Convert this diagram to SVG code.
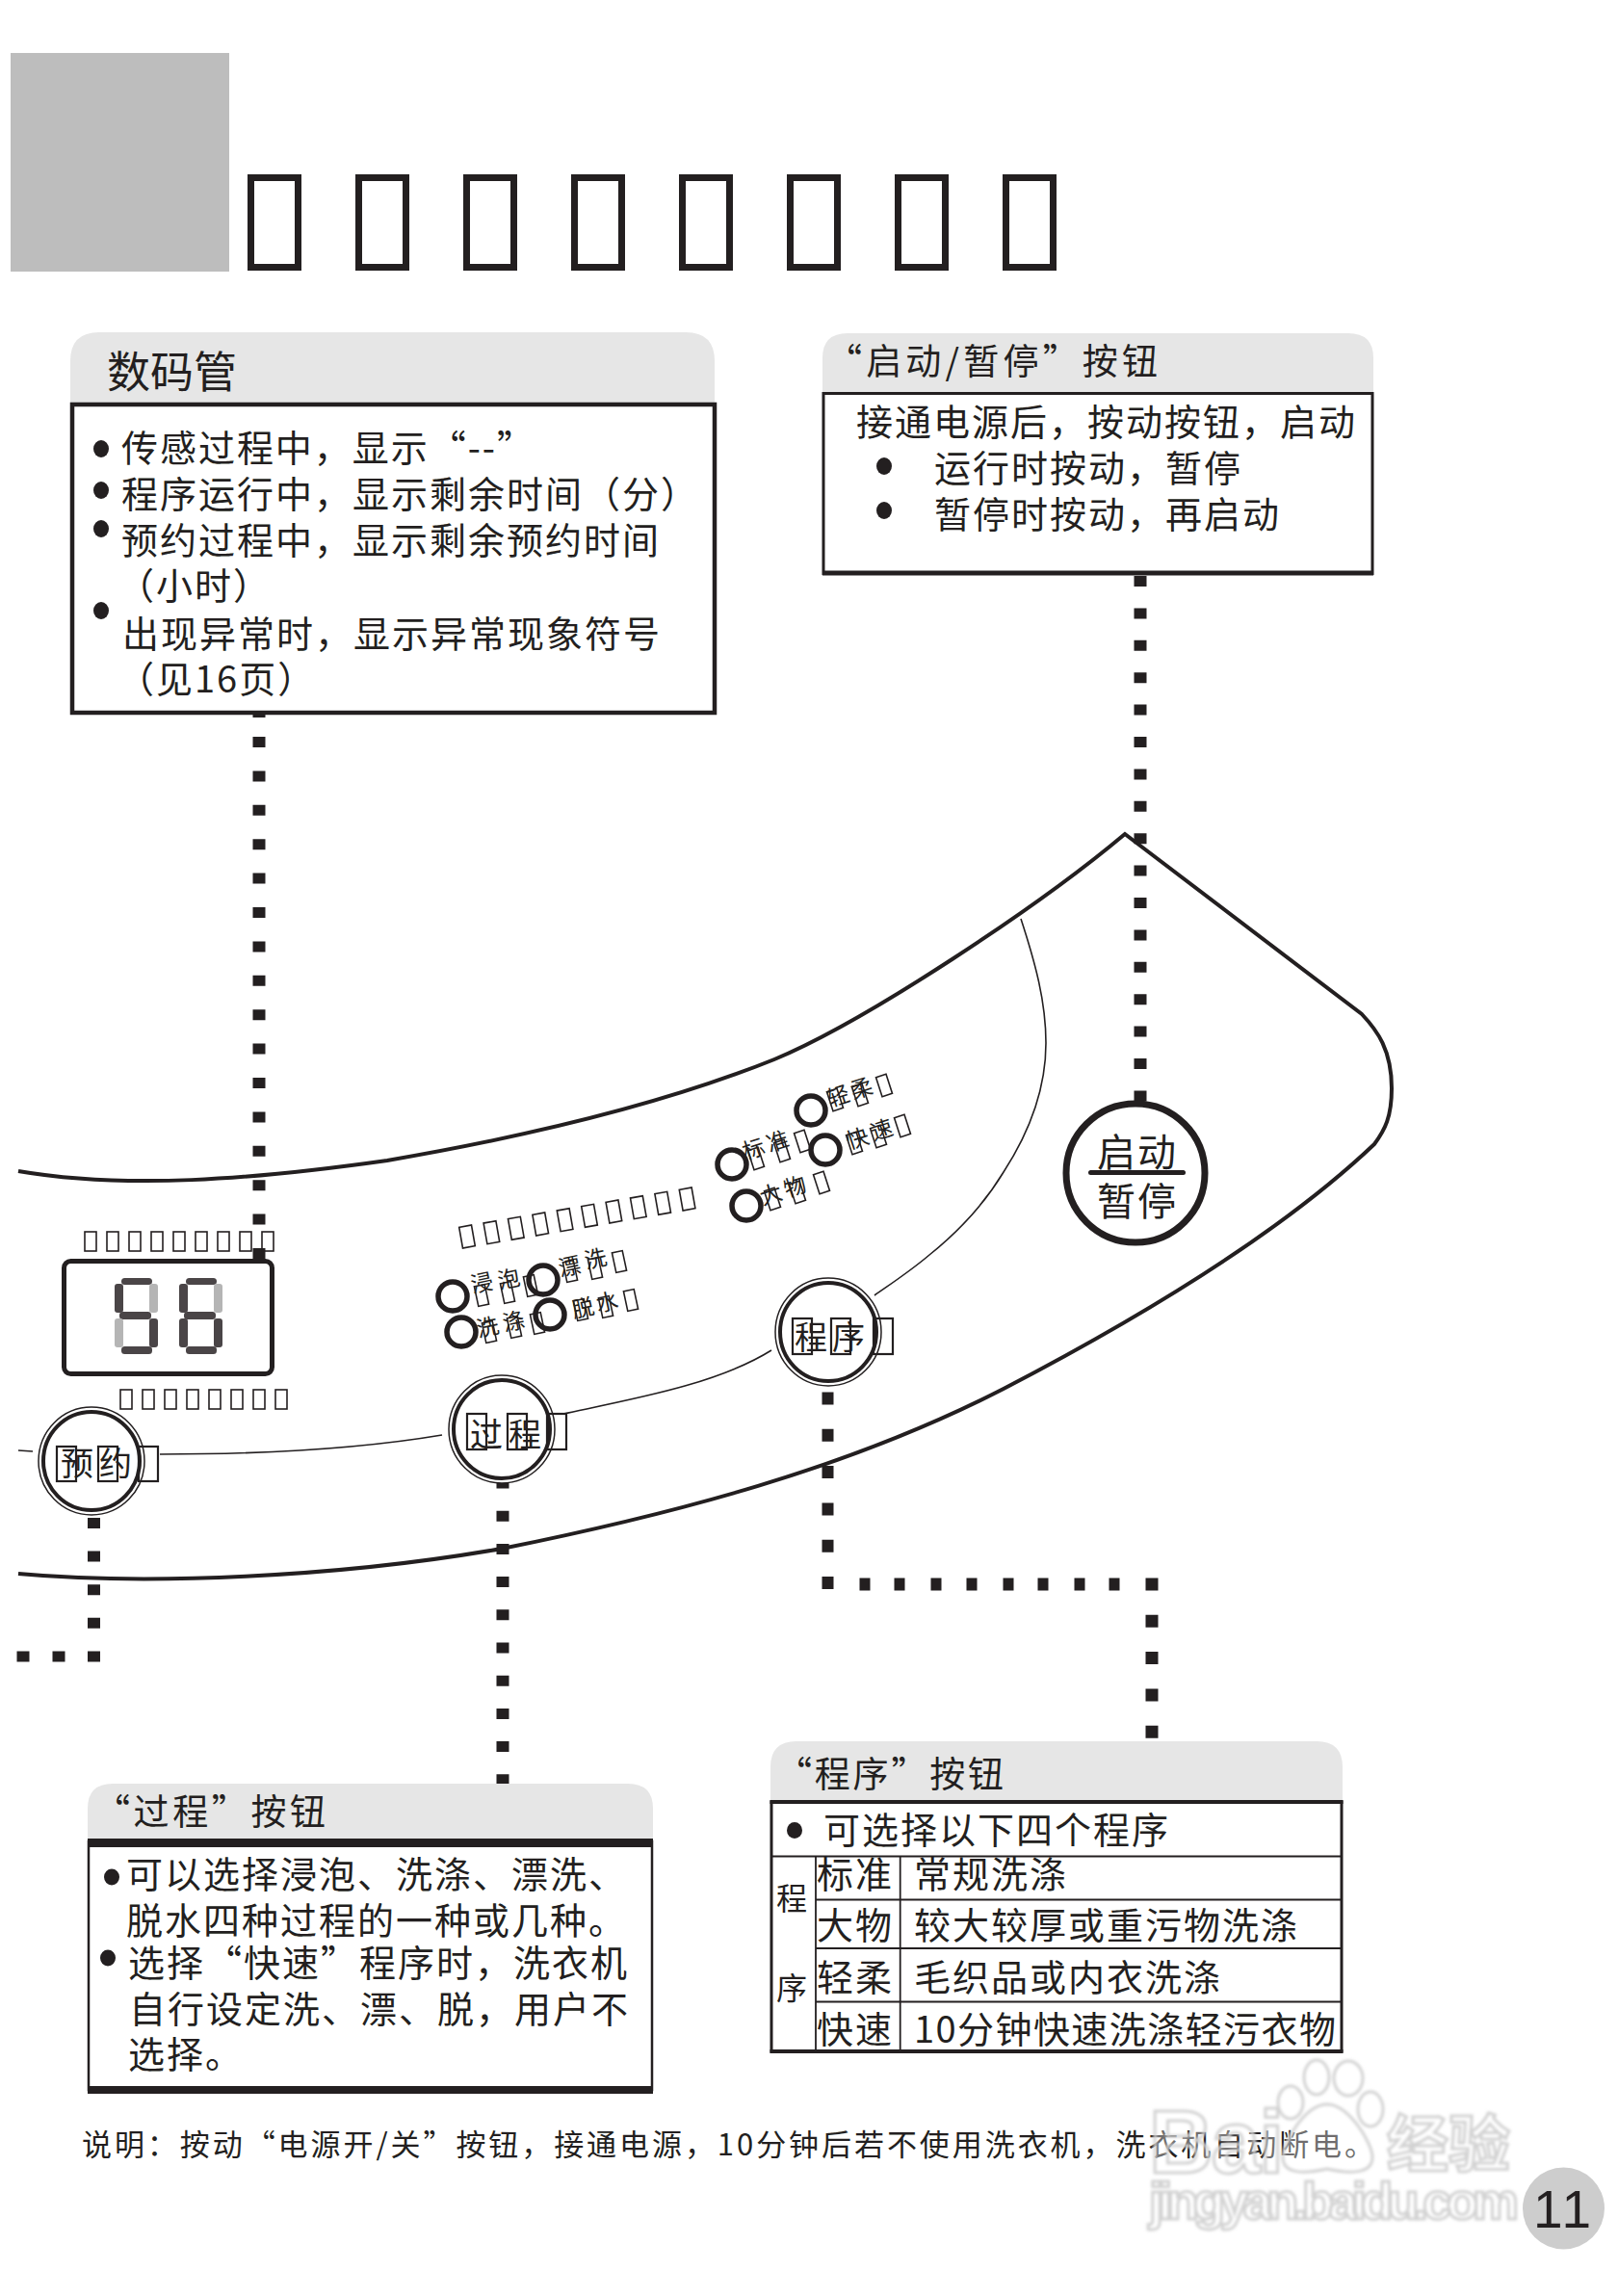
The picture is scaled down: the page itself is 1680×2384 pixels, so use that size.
<svg xmlns="http://www.w3.org/2000/svg" width="1680" height="2384" viewBox="0 0 1680 2384">
<defs>
<filter id="soft" x="-5%" y="-5%" width="110%" height="110%"><feGaussianBlur stdDeviation="1.5"/></filter>
</defs>
<style>
text{font-family:"Noto Sans CJK SC","Liberation Sans",sans-serif;fill:#231f20}
.t38{font-size:38px;letter-spacing:2px}
.h36{font-size:37px}
.foot{font-size:31px}
.btn{font-size:34px;letter-spacing:2px}
.led{font-size:23px;text-anchor:middle}
.line{fill:none;stroke:#231f20;stroke-width:4}
.thin{fill:none;stroke:#231f20;stroke-width:1.6}
.head{fill:#e6e6e6}
.box{fill:#fff;stroke:#231f20;stroke-width:3}
.rule{stroke:#231f20;stroke-width:1.8}
.bul{fill:#231f20}
.tofu{fill:none;stroke:#231f20;stroke-width:1.6}
.tbox{fill:none;stroke:#231f20;stroke-width:2.2}
.title{fill:none;stroke:#231f20;stroke-width:7}
.ring{fill:none;stroke:#231f20;stroke-width:5.5}
.dot{fill:none;stroke:#231f20;stroke-width:13}
.segd{fill:#4a4547}.segl{fill:#b5b5b5}
.wm{fill:#fff;fill-opacity:.35;stroke:#d2d2d2;stroke-width:3;font-family:"Liberation Sans",sans-serif;font-weight:700}
</style>

<rect x="11" y="55" width="227" height="227" fill="#bdbdbd"/>
<g id="title">
<rect class="title" x="260.500" y="184.500" width="49" height="93"/>
<rect class="title" x="372.500" y="184.500" width="49" height="93"/>
<rect class="title" x="484.500" y="184.500" width="49" height="93"/>
<rect class="title" x="596.500" y="184.500" width="49" height="93"/>
<rect class="title" x="708.500" y="184.500" width="49" height="93"/>
<rect class="title" x="820.500" y="184.500" width="49" height="93"/>
<rect class="title" x="932.500" y="184.500" width="49" height="93"/>
<rect class="title" x="1044.500" y="184.500" width="49" height="93"/>
</g>

<g id="panel">
<path class="line" d="M19 1216 C130 1235 260 1225 402 1205 C536 1182 680 1150 804 1100 C900 1060 1080 940 1168 866 L1414 1053 C1430 1070 1445 1090 1445 1130 C1445 1160 1438 1173 1427 1188 C1330 1280 1190 1365 1042 1442 C880 1525 700 1572 521 1608 C350 1638 150 1646 19 1634"/>
<path class="thin" d="M1060 954 C1075 1000 1086 1040 1086 1083 C1086 1135 1066 1180 1042 1217 C1025 1245 1000 1275 965 1303 C945 1320 925 1333 908 1345"/>
<path class="thin" d="M801 1402 C745 1437 660 1452 585 1468"/>
<path class="thin" d="M459 1490 C370 1505 270 1510 166 1510"/>
<path class="thin" d="M19 1506 L34 1507"/>
</g>

<g id="connectors">
<path class="dot" d="M269 742 V745 M269 765 V1308" stroke-dasharray="11 24.400"/>
<path class="dot" d="M1184 598 V1145" stroke-dasharray="11 22.400"/>
<path class="dot" d="M97.500 1576 V1727" stroke-dasharray="11 23.600"/>
<path class="dot" d="M61 1714.500 V1725.500 M24 1714.500 V1725.500"/>
<path class="dot" d="M522 1534.500 V1854" stroke-dasharray="11 23.200"/>
<path class="dot" d="M859.500 1445.500 V1651" stroke-dasharray="13 25.300" style="stroke-width:12"/>
<path class="dot" d="M898 1638.500 V1651.500 M934 1638.500 V1651.500 M972 1638.500 V1651.500 M1009 1638.500 V1651.500 M1047 1638.500 V1651.500 M1083 1638.500 V1651.500 M1121 1638.500 V1651.500 M1157 1638.500 V1651.500" style="stroke-width:11"/>
<path class="dot" d="M1196 1638.500 V1806" stroke-dasharray="13 25.300"/>
</g>

<g id="display-labels">
<rect class="tofu" x="88" y="1279" width="12" height="20"/><rect class="tofu" x="111" y="1279" width="12" height="20"/><rect class="tofu" x="134" y="1279" width="12" height="20"/><rect class="tofu" x="157" y="1279" width="12" height="20"/><rect class="tofu" x="180" y="1279" width="12" height="20"/><rect class="tofu" x="203" y="1279" width="12" height="20"/><rect class="tofu" x="226" y="1279" width="12" height="20"/><rect class="tofu" x="249" y="1279" width="12" height="20"/><rect class="tofu" x="272" y="1279" width="12" height="20"/>
<rect class="tofu" x="125" y="1443" width="12" height="20"/><rect class="tofu" x="148" y="1443" width="12" height="20"/><rect class="tofu" x="171" y="1443" width="12" height="20"/><rect class="tofu" x="194" y="1443" width="12" height="20"/><rect class="tofu" x="217" y="1443" width="12" height="20"/><rect class="tofu" x="240" y="1443" width="12" height="20"/><rect class="tofu" x="263" y="1443" width="12" height="20"/><rect class="tofu" x="286" y="1443" width="12" height="20"/>
</g>

<g id="display">
<rect x="66.500" y="1309.500" width="216" height="117" rx="7" fill="#fff" stroke="#231f20" stroke-width="5"/>
<g id="digit1">
<rect class="segd" x="126" y="1327" width="32" height="7" rx="3.500"/>
<rect class="segd" x="119" y="1333" width="9" height="30" rx="3"/>
<rect class="segl" x="155" y="1333" width="9" height="30" rx="3"/>
<rect class="segd" x="124" y="1362" width="33" height="8" rx="3.500"/>
<rect class="segl" x="119" y="1369" width="9" height="30" rx="3"/>
<rect class="segd" x="155" y="1369" width="9" height="30" rx="3"/>
<rect class="segd" x="126" y="1398" width="32" height="8" rx="3.500"/>
</g>
<g id="digit2">
<rect class="segd" x="193" y="1327" width="32" height="7" rx="3.500"/>
<rect class="segd" x="186" y="1333" width="9" height="30" rx="3"/>
<rect class="segl" x="222" y="1333" width="9" height="30" rx="3"/>
<rect class="segd" x="191" y="1362" width="33" height="8" rx="3.500"/>
<rect class="segd" x="186" y="1369" width="9" height="30" rx="3"/>
<rect class="segd" x="222" y="1369" width="9" height="30" rx="3"/>
<rect class="segd" x="193" y="1398" width="32" height="8" rx="3.500"/>
</g>
</g>

<g id="indicator-title">
<rect class="tofu" x="-6.500" y="-11" width="13" height="22" transform="translate(485 1284) rotate(-10)"/>
<rect class="tofu" x="-6.500" y="-11" width="13" height="22" transform="translate(510.400 1279.700) rotate(-10)"/>
<rect class="tofu" x="-6.500" y="-11" width="13" height="22" transform="translate(535.800 1275.300) rotate(-10)"/>
<rect class="tofu" x="-6.500" y="-11" width="13" height="22" transform="translate(561.200 1271) rotate(-10)"/>
<rect class="tofu" x="-6.500" y="-11" width="13" height="22" transform="translate(586.600 1266.700) rotate(-10)"/>
<rect class="tofu" x="-6.500" y="-11" width="13" height="22" transform="translate(612 1262.300) rotate(-10)"/>
<rect class="tofu" x="-6.500" y="-11" width="13" height="22" transform="translate(637.400 1258) rotate(-10)"/>
<rect class="tofu" x="-6.500" y="-11" width="13" height="22" transform="translate(662.800 1253.700) rotate(-10)"/>
<rect class="tofu" x="-6.500" y="-11" width="13" height="22" transform="translate(688.200 1249.300) rotate(-10)"/>
<rect class="tofu" x="-6.500" y="-11" width="13" height="22" transform="translate(713.600 1245) rotate(-10)"/>
</g>

<g id="led-soak">
<circle class="ring" cx="470" cy="1346" r="15"/>
<text class="led" transform="translate(502 1340) rotate(-12)">浸</text><text class="led" transform="translate(530 1336) rotate(-12)">泡</text>
<rect class="tofu" x="-5.500" y="-10.500" width="11" height="21" transform="translate(500 1345) rotate(-12)"/><rect class="tofu" x="-5.500" y="-10.500" width="11" height="21" transform="translate(527 1342) rotate(-12)"/><rect class="tofu" x="-5.500" y="-10.500" width="11" height="21" transform="translate(551 1335) rotate(-12)"/>
</g>
<g id="led-rinse">
<circle class="ring" cx="564" cy="1329" r="15"/>
<text class="led" transform="translate(593 1323) rotate(-12)">漂</text><text class="led" transform="translate(620 1315) rotate(-12)">洗</text>
<rect class="tofu" x="-5.500" y="-10.500" width="11" height="21" transform="translate(592 1320) rotate(-12)"/><rect class="tofu" x="-5.500" y="-10.500" width="11" height="21" transform="translate(618 1317) rotate(-12)"/><rect class="tofu" x="-5.500" y="-10.500" width="11" height="21" transform="translate(643 1310) rotate(-12)"/>
</g>
<g id="led-wash">
<circle class="ring" cx="479" cy="1383" r="15"/>
<text class="led" transform="translate(508 1386) rotate(-12)">洗</text><text class="led" transform="translate(535 1380) rotate(-12)">涤</text>
<rect class="tofu" x="-5.500" y="-10.500" width="11" height="21" transform="translate(508 1383) rotate(-12)"/><rect class="tofu" x="-5.500" y="-10.500" width="11" height="21" transform="translate(534 1378) rotate(-12)"/><rect class="tofu" x="-5.500" y="-10.500" width="11" height="21" transform="translate(558 1374) rotate(-12)"/>
</g>
<g id="led-spin">
<circle class="ring" cx="571" cy="1365" r="15"/>
<text class="led" transform="translate(607 1366) rotate(-12)">脱</text><text class="led" transform="translate(632 1360) rotate(-12)">水</text>
<rect class="tofu" x="-5.500" y="-10.500" width="11" height="21" transform="translate(603 1360) rotate(-12)"/><rect class="tofu" x="-5.500" y="-10.500" width="11" height="21" transform="translate(629 1357) rotate(-12)"/><rect class="tofu" x="-5.500" y="-10.500" width="11" height="21" transform="translate(655 1350) rotate(-12)"/>
</g>
<g id="led-gentle">
<circle class="ring" cx="842" cy="1153" r="15"/>
<text class="led" transform="translate(873 1146) rotate(-18)">轻</text><text class="led" transform="translate(897 1138) rotate(-18)">柔</text>
<rect class="tofu" x="-5.500" y="-10.500" width="11" height="21" transform="translate(867 1142) rotate(-18)"/><rect class="tofu" x="-5.500" y="-10.500" width="11" height="21" transform="translate(893 1137) rotate(-18)"/><rect class="tofu" x="-5.500" y="-10.500" width="11" height="21" transform="translate(918 1127) rotate(-18)"/>
</g>
<g id="led-standard">
<circle class="ring" cx="760" cy="1209" r="15"/>
<text class="led" transform="translate(785 1201) rotate(-18)">标</text><text class="led" transform="translate(810 1193) rotate(-18)">准</text>
<rect class="tofu" x="-5.500" y="-10.500" width="11" height="21" transform="translate(785 1203) rotate(-18)"/><rect class="tofu" x="-5.500" y="-10.500" width="11" height="21" transform="translate(812 1195) rotate(-18)"/><rect class="tofu" x="-5.500" y="-10.500" width="11" height="21" transform="translate(833 1185) rotate(-18)"/>
</g>
<g id="led-quick">
<circle class="ring" cx="857" cy="1194" r="15"/>
<text class="led" transform="translate(893 1190) rotate(-18)">快</text><text class="led" transform="translate(918 1181) rotate(-18)">速</text>
<rect class="tofu" x="-5.500" y="-10.500" width="11" height="21" transform="translate(887 1187) rotate(-18)"/><rect class="tofu" x="-5.500" y="-10.500" width="11" height="21" transform="translate(912 1180) rotate(-18)"/><rect class="tofu" x="-5.500" y="-10.500" width="11" height="21" transform="translate(937 1169) rotate(-18)"/>
</g>
<g id="led-bulky">
<circle class="ring" cx="775" cy="1252" r="15"/>
<text class="led" transform="translate(803 1248) rotate(-18)">大</text><text class="led" transform="translate(828 1240) rotate(-18)">物</text>
<rect class="tofu" x="-5.500" y="-10.500" width="11" height="21" transform="translate(802 1245) rotate(-18)"/><rect class="tofu" x="-5.500" y="-10.500" width="11" height="21" transform="translate(828 1238) rotate(-18)"/><rect class="tofu" x="-5.500" y="-10.500" width="11" height="21" transform="translate(853 1228) rotate(-18)"/>
</g>

<g id="btn-timer">
<ellipse cx="95" cy="1517" rx="55" ry="56" fill="#fff" stroke="#231f20" stroke-width="1.500"/>
<ellipse cx="95" cy="1517" rx="50" ry="51" fill="#fff" stroke="#231f20" stroke-width="4"/>
<text class="btn" x="63" y="1532" style="letter-spacing:6px">预约</text>
<rect class="tbox" x="59" y="1502" width="20" height="36"/><rect class="tbox" x="102" y="1502" width="20" height="36"/><rect class="tbox" x="144" y="1502" width="20" height="36"/>
</g>
<g id="btn-process">
<ellipse cx="521" cy="1484" rx="55" ry="56" fill="#fff" stroke="#231f20" stroke-width="1.500"/>
<ellipse cx="521" cy="1484" rx="50" ry="51" fill="#fff" stroke="#231f20" stroke-width="4"/>
<text class="btn" x="488" y="1502" style="letter-spacing:6px">过程</text>
<rect class="tbox" x="485" y="1468" width="20" height="37"/><rect class="tbox" x="527" y="1468" width="20" height="37"/><rect class="tbox" x="568" y="1468" width="20" height="37"/>
</g>
<g id="btn-program">
<ellipse cx="860" cy="1383" rx="55" ry="56" fill="#fff" stroke="#231f20" stroke-width="1.500"/>
<ellipse cx="860" cy="1383" rx="50" ry="51" fill="#fff" stroke="#231f20" stroke-width="4"/>
<text class="btn" x="825" y="1401" style="letter-spacing:5px">程序</text>
<rect class="tbox" x="823" y="1369" width="20" height="37"/><rect class="tbox" x="863" y="1369" width="20" height="37"/><rect class="tbox" x="907" y="1369" width="20" height="37"/>
</g>
<g id="btn-start">
<ellipse cx="1179" cy="1218" rx="72" ry="72" fill="#fff" stroke="#231f20" stroke-width="7"/>
<text x="1181" y="1211" font-size="40" letter-spacing="2" text-anchor="middle">启动</text>
<rect x="1130" y="1215" width="101" height="5" rx="2.500" fill="#231f20"/>
<text x="1181" y="1262" font-size="40" letter-spacing="2" text-anchor="middle">暂停</text>
</g>

<g id="note-display">
<path class="head" d="M73 419 V375 Q73 345 103 345 H712 Q742 345 742 375 V419 Z"/>
<text x="111" y="403" font-size="45">数码管</text>
<rect class="box" x="75" y="420" width="667" height="320" style="stroke-width:4.500"/>
<ellipse class="bul" cx="105" cy="466" rx="8" ry="9"/><ellipse class="bul" cx="105" cy="509" rx="8" ry="9"/><ellipse class="bul" cx="105" cy="549" rx="8" ry="9"/><ellipse class="bul" cx="105" cy="634" rx="8" ry="9"/>
<text class="t38" x="126" y="479" textLength="430">传感过程中，显示“--”</text>
<text class="t38" x="126" y="527">程序运行中，显示剩余时间（分）</text>
<text class="t38" x="126" y="575">预约过程中，显示剩余预约时间</text>
<text class="t38" x="122" y="622">（小时）</text>
<text class="t38" x="127" y="672">出现异常时，显示异常现象符号</text>
<text class="t38" x="122" y="719">（见16页）</text>
</g>

<g id="note-start">
<path class="head" d="M854 408 V372 Q854 346 880 346 H1400 Q1426 346 1426 372 V408 Z"/>
<text class="h36" x="858" y="389" textLength="344">“启动/暂停”按钮</text>
<rect class="box" x="855" y="408.500" width="570" height="187"/>
<path d="M854 595 H1426" stroke="#231f20" stroke-width="5"/>
<text class="t38" x="889" y="452">接通电源后，按动按钮，启动</text>
<ellipse class="bul" cx="918" cy="484" rx="8" ry="9"/><ellipse class="bul" cx="918" cy="530" rx="8" ry="9"/>
<text class="t38" x="970" y="500">运行时按动，暂停</text>
<text class="t38" x="970" y="548">暂停时按动，再启动</text>
</g>

<g id="note-process">
<path class="head" d="M91 1909 V1878 Q91 1852 117 1852 H652 Q678 1852 678 1878 V1909 Z"/>
<text class="h36" x="98" y="1895" textLength="240">“过程”按钮</text>
<rect class="box" x="92" y="1912" width="585" height="258" style="stroke-width:2.500"/>
<rect x="91" y="1909" width="587" height="9" fill="#231f20"/>
<rect x="91" y="2166" width="587" height="8" fill="#231f20"/>
<ellipse class="bul" cx="116" cy="1949" rx="8" ry="8.500"/><ellipse class="bul" cx="112" cy="2033" rx="8" ry="8.500"/>
<text class="t38" x="131" y="1960">可以选择浸泡、洗涤、漂洗、</text>
<text class="t38" x="131" y="2008">脱水四种过程的一种或几种。</text>
<text class="t38" x="133" y="2052">选择“快速”程序时，洗衣机</text>
<text class="t38" x="134" y="2100">自行设定洗、漂、脱，用户不</text>
<text class="t38" x="133" y="2147">选择。</text>
</g>

<g id="note-program">
<path class="head" d="M800 1869 V1835 Q800 1808 827 1808 H1367 Q1394 1808 1394 1835 V1869 Z"/>
<text class="h36" x="806" y="1856" textLength="236">“程序”按钮</text>
<rect class="box" x="801" y="1871" width="592" height="259"/>
<path d="M799.500 1871 H1394.500 M799.500 2130 H1394.500" stroke="#231f20" stroke-width="4"/>
<path class="rule" d="M800 1927.500 H1394 M847 1972.500 H1394 M847 2023 H1394 M847 2078.500 H1394 M847 1927.500 V2130 M934.700 1927.500 V2130"/>
<ellipse class="bul" cx="825" cy="1900.500" rx="8" ry="8.500"/>
<text class="t38" x="855" y="1914">可选择以下四个程序</text>
<text x="806" y="1983" font-size="32">程</text>
<text x="806" y="2076" font-size="32">序</text>
<text class="t38" x="848" y="1960">标准</text><text class="t38" x="949" y="1960">常规洗涤</text>
<text class="t38" x="848" y="2013">大物</text><text class="t38" x="949" y="2013">较大较厚或重污物洗涤</text>
<text class="t38" x="848" y="2067">轻柔</text><text class="t38" x="949" y="2067">毛织品或内衣洗涤</text>
<text class="t38" x="848" y="2121">快速</text><text class="t38" x="949" y="2121" textLength="440">10分钟快速洗涤轻污衣物</text>
</g>

<text id="footnote" class="foot" x="85" y="2238" textLength="1342">说明：按动“电源开/关”按钮，接通电源，10分钟后若不使用洗衣机，洗衣机自动断电。</text>

<g id="watermark" filter="url(#soft)">
<text class="wm" x="1193" y="2256" font-size="92" textLength="140">Bai</text>
<ellipse class="wm" cx="1340" cy="2183" rx="13" ry="17"/>
<ellipse class="wm" cx="1367" cy="2157" rx="13" ry="18"/>
<ellipse class="wm" cx="1400" cy="2158" rx="15" ry="18"/>
<ellipse class="wm" cx="1423" cy="2190" rx="13" ry="18"/>
<path class="wm" d="M1378 2185 C1400 2185 1425 2225 1425 2240 C1425 2258 1400 2257 1378 2252 C1355 2257 1332 2258 1332 2240 C1332 2225 1355 2185 1378 2185Z"/>
<text class="wm" x="1440" y="2249" font-size="64" textLength="128" style="font-family:'Noto Sans CJK SC',sans-serif">经验</text>
<text class="wm" x="1193" y="2304" font-size="54" textLength="384">jingyan.baidu.com</text>
</g>

<g id="page-number">
<circle cx="1623.500" cy="2293" r="42.500" fill="#cdcdcd"/>
<text x="1592" y="2313" font-size="55" textLength="60" style="font-family:'Liberation Sans',sans-serif">11</text>
</g>
</svg>
